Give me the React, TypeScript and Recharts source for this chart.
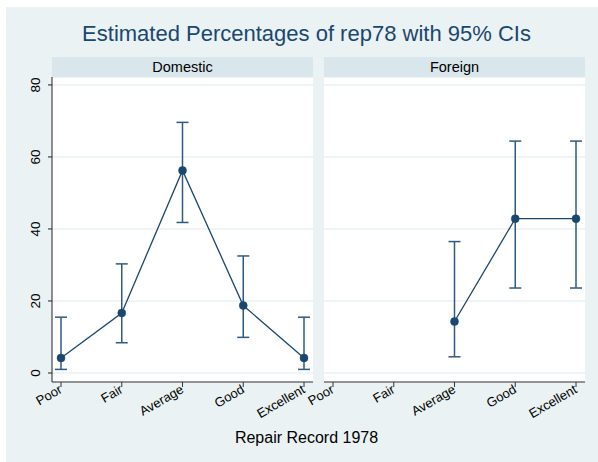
import React from 'react';
import { LineChart, Line, XAxis, YAxis, CartesianGrid, ErrorBar } from 'recharts';

// rep78 categories and estimated percentages with 95% CIs
const categories = ['Poor', 'Fair', 'Average', 'Good', 'Excellent'];

const domesticPct = [4.17, 16.67, 56.25, 18.75, 4.17];
const domesticLo = [1.0, 8.4, 41.8, 9.9, 1.0];
const domesticHi = [15.5, 30.3, 69.6, 32.5, 15.5];

const foreignPct: (number | null)[] = [null, null, 14.29, 42.86, 42.86];
const foreignLo: (number | null)[] = [null, null, 4.5, 23.6, 23.6];
const foreignHi: (number | null)[] = [null, null, 36.5, 64.4, 64.4];

const yTicks = [0, 20, 40, 60, 80];

const NAVY = '#1a476f';
const FONT = '"Liberation Sans", Arial, Helvetica, sans-serif';

const buildRows = (pct: (number | null)[], lo: (number | null)[], hi: (number | null)[]) =>
  categories.map((cat, i) => {
    const v = pct[i];
    const l = lo[i];
    const h = hi[i];
    return {
      cat,
      pct: v,
      err: v == null || l == null || h == null ? undefined : [v - l, h - v],
    };
  });

const domesticRows = buildRows(domesticPct, domesticLo, domesticHi);
const foreignRows = buildRows(foreignPct, foreignLo, foreignHi);

const XTick = (props: any) => {
  const { x, y, payload } = props;
  const ax = x + 2;
  const ay = y + 3;
  return (
    <text
      x={ax}
      y={ay}
      transform={`rotate(-30, ${ax}, ${ay})`}
      textAnchor="end"
      fontSize={13}
      fontFamily={FONT}
      fill="#000"
    >
      {payload.value}
    </text>
  );
};

const YTick = (props: any) => {
  const { y, payload } = props;
  const ax = 40;
  return (
    <text
      x={ax}
      y={y}
      transform={`rotate(-90, ${ax}, ${y})`}
      textAnchor="middle"
      fontSize={13.5}
      fontFamily={FONT}
      fill="#000"
    >
      {payload.value}
    </text>
  );
};

interface PanelProps {
  rows: any[];
  left: number;
  width: number;
  marginLeft: number;
  showY: boolean;
}

const Panel: React.FC<PanelProps> = ({ rows, left, width, marginLeft, showY }) => (
  <div style={{ position: 'absolute', left, top: 0 }}>
    <LineChart
      width={width}
      height={462}
      data={rows}
      margin={{ top: 77, right: 5, bottom: 50, left: marginLeft }}
    >
      <CartesianGrid vertical={false} stroke="#eaf2f3" strokeWidth={1.5} fill="#ffffff" fillOpacity={1} />
      <XAxis
        dataKey="cat"
        padding={{ left: 9, right: 9 }}
        tick={<XTick />}
        tickSize={5}
        height={30}
        axisLine={{ stroke: '#333' }}
        tickLine={{ stroke: '#333' }}
        interval={0}
      />
      <YAxis
        type="number"
        domain={[-2.5, 82.2]}
        ticks={yTicks}
        width={40}
        hide={!showY}
        tick={<YTick />}
        tickSize={4}
        axisLine={{ stroke: '#222' }}
        tickLine={{ stroke: '#222' }}
      />
      <Line
        dataKey="pct"
        stroke={NAVY}
        strokeWidth={1.3}
        isAnimationActive={false}
        dot={{ r: 4, fill: NAVY, stroke: NAVY, strokeWidth: 0.5 }}
        activeDot={false}
      >
        <ErrorBar dataKey="err" width={6} stroke="#2f5a80" strokeWidth={1.5} />
      </Line>
    </LineChart>
  </div>
);

const stripStyle: React.CSSProperties = {
  position: 'absolute',
  top: 57,
  height: 20,
  width: 261,
  background: '#d9e6eb',
  fontFamily: FONT,
  fontSize: 14.5,
  lineHeight: '20px',
  textAlign: 'center',
  color: '#000',
};

export default function App() {
  return (
    <div style={{ position: 'fixed', left: 0, top: 0, width: 598, height: 462, background: '#fff', overflow: 'hidden' }}>
      <div style={{ position: 'absolute', left: 6, top: 7, width: 592, height: 455, background: '#eaf2f3' }} />
      <div
        style={{
          position: 'absolute',
          left: 0,
          width: 613,
          top: 20,
          textAlign: 'center',
          fontFamily: FONT,
          fontSize: 22,
          lineHeight: '28px',
          color: NAVY,
          whiteSpace: 'nowrap',
        }}
      >
        Estimated Percentages of rep78 with 95% CIs
      </div>
      <Panel rows={domesticRows} left={0} width={318} marginLeft={12} showY />
      <Panel rows={foreignRows} left={250} width={340} marginLeft={74} showY={false} />
      <div style={{ ...stripStyle, left: 52 }}>Domestic</div>
      <div style={{ ...stripStyle, left: 324 }}>Foreign</div>
      <div
        style={{
          position: 'absolute',
          left: 0,
          width: 613,
          top: 428,
          textAlign: 'center',
          fontFamily: FONT,
          fontSize: 16,
          lineHeight: '20px',
          color: '#000',
          whiteSpace: 'nowrap',
        }}
      >
        Repair Record 1978
      </div>
    </div>
  );
}
